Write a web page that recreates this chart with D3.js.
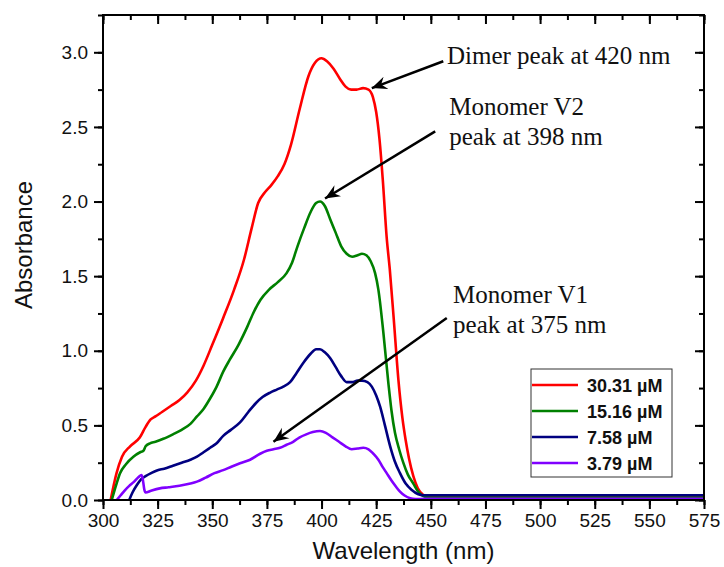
<!DOCTYPE html>
<html>
<head>
<meta charset="utf-8">
<script src="https://cdn.jsdelivr.net/npm/d3@7"></script>
<style>
  html, body { margin: 0; padding: 0; background: #fff; }
  svg { display: block; }
</style>
</head>
<body>
<svg id="chart" width="724" height="567"></svg>
<script>
// UV-Vis absorption spectra at four concentrations: [wavelength (nm), absorbance]
const spec3031 = [
  [303.5,0],[306.2,0.18],[308.7,0.29],[312.4,0.36],[316.9,0.42],[319.5,0.49],[321.8,0.54],[324,0.56],
  [327,0.59],[331,0.63],[335,0.67],[338.5,0.72],[342.5,0.80],[346,0.90],[350,1.04],[355,1.22],
  [360,1.41],[364.5,1.61],[368,1.82],[371,1.99],[374,2.06],[377,2.11],[380,2.17],[383,2.25],
  [386,2.38],[390,2.62],[394,2.84],[397,2.93],[400,2.96],[402.5,2.94],[405.5,2.89],[408.5,2.82],
  [411,2.77],[413.5,2.75],[416,2.75],[419,2.76],[421.5,2.75],[423.5,2.70],[425,2.60],[426.5,2.42],
  [428,2.15],[429.8,1.76],[431.2,1.55],[433,1.22],[435.2,0.80],[437,0.55],[438.5,0.40],[440,0.28],
  [442,0.16],[444,0.08],[446.5,0.035],[449,0.024],[575,0.024]
];
const spec1516 = [
  [304,0],[306,0.10],[307.8,0.18],[310.5,0.24],[313.9,0.29],[317,0.32],[318.5,0.33],[319.5,0.36],
  [321.5,0.38],[324,0.39],[327.6,0.41],[332,0.44],[336,0.47],[340,0.51],[343,0.56],[346,0.61],
  [349,0.68],[352,0.76],[355,0.86],[358,0.94],[362,1.04],[366,1.16],[369,1.26],[372,1.34],
  [376,1.41],[380,1.46],[384,1.52],[386.5,1.59],[389,1.70],[392,1.82],[395,1.93],[397.5,1.99],
  [399.3,2.00],[401.5,1.97],[404,1.88],[406.5,1.79],[409,1.70],[411.5,1.65],[414,1.63],[416.5,1.64],
  [418.5,1.65],[420.5,1.64],[422.5,1.60],[424.5,1.52],[426,1.41],[428.3,1.12],[430.6,0.78],[432,0.60],
  [433.6,0.45],[435.5,0.34],[437.4,0.25],[439.5,0.17],[442,0.11],[444,0.06],[446,0.03],[449,0.016],
  [575,0.016]
];
const spec758 = [
  [312,0],[313.5,0.05],[315.5,0.10],[317.5,0.14],[319.5,0.16],[322,0.18],[325,0.20],[328,0.21],
  [332,0.23],[336,0.25],[340,0.27],[343,0.29],[346,0.32],[349,0.35],[352,0.38],[355,0.43],
  [358.5,0.47],[362.7,0.52],[366.5,0.59],[370,0.65],[373,0.69],[376.5,0.72],[379.5,0.74],[382.5,0.76],
  [385.6,0.79],[388.5,0.85],[391.7,0.92],[395,0.98],[397.5,1.01],[399.3,1.01],[401.5,0.99],[404,0.95],
  [406.5,0.89],[409,0.83],[411.5,0.79],[414,0.79],[416.5,0.80],[418.5,0.80],[421,0.79],[423,0.76],
  [425,0.70],[426.8,0.625],[429,0.50],[431.4,0.36],[433.5,0.26],[435.9,0.18],[438.5,0.11],[441.3,0.067],
  [444,0.04],[446.6,0.032],[450,0.032],[575,0.032]
];
const spec379 = [
  [306.3,0],[308,0.03],[310,0.065],[312,0.095],[314,0.12],[316,0.15],[317.7,0.168],[318.4,0.12],
  [318.9,0.07],[319.5,0.05],[322,0.062],[326,0.078],[330,0.085],[335,0.095],[340,0.11],[343,0.123],
  [347,0.15],[351,0.18],[355,0.20],[359,0.225],[362.7,0.246],[367.3,0.27],[371.9,0.31],[375,0.33],
  [378,0.34],[381,0.35],[384,0.37],[387,0.39],[390,0.42],[393,0.44],[396,0.455],[399.3,0.462],
  [402,0.45],[405,0.42],[408,0.39],[411,0.36],[413.8,0.34],[416.5,0.345],[419.1,0.35],[421.5,0.34],
  [423.7,0.31],[426,0.27],[428,0.22],[429.8,0.18],[432,0.13],[434,0.09],[435.9,0.056],[438,0.03],
  [440.5,0.012],[443,0.006],[447,0.008],[575,0.008]
];

const seriesNames = ["30.31 \u00B5M", "15.16 \u00B5M", "7.58 \u00B5M", "3.79 \u00B5M"];
const seriesData = [spec3031, spec1516, spec758, spec379];
const seriesColors = ["#ff0000", "#008000", "#000080", "#8000ff"];

const xTicks = [300,325,350,375,400,425,450,475,500,525,550,575];
const yTicks = [0,0.5,1.0,1.5,2.0,2.5,3.0];

// Annotation callouts: text lines, text anchor and arrow in data units
const noteLines = [["Dimer peak at 420 nm"], ["Monomer V2", "peak at 398 nm"], ["Monomer V1", "peak at 375 nm"]];
const noteText = [[457.4, 2.92], [458.4, 2.58], [460.2, 1.32]];
const noteArrowFrom = [[455.7, 2.94], [452, 2.47], [457.3, 1.22]];
const noteArrowTo = [[423, 2.76], [401.6, 2.02], [378, 0.39]];

const svg = d3.select("#chart");
const m = { left: 103, right: 20, top: 15, bottom: 67 };
const W = 724, H = 567;
const x = d3.scaleLinear().domain([300, 575]).range([m.left, W - m.right]);
const y = d3.scaleLinear().domain([0, 3.25]).range([H - m.bottom, m.top]);

const x0 = x.range()[0], x1 = x.range()[1], y0 = y.range()[0], y1 = y.range()[1];

const minorX = d3.range(300, 575.01, 12.5);
const minorY = d3.range(0, 3.2501, 0.25);

function styleAxis(g) {
  g.select(".domain").remove();
  g.selectAll(".tick line").attr("stroke", "#000").attr("stroke-width", 2);
  g.selectAll(".tick text").attr("fill", "#111")
    .style("font-family", "Liberation Sans, Arial, sans-serif").style("font-size", "19px");
}

// bottom axis: labelled major ticks + minor ticks, pointing out
svg.append("g").attr("transform", `translate(0,${y0})`)
  .call(d3.axisBottom(x).tickValues(minorX).tickSize(5).tickFormat(""))
  .call(styleAxis);
svg.append("g").attr("transform", `translate(0,${y0})`)
  .call(d3.axisBottom(x).tickValues(xTicks).tickSize(9).tickPadding(5).tickFormat(d3.format("d")))
  .call(styleAxis);
// left axis
svg.append("g").attr("transform", `translate(${x0},0)`)
  .call(d3.axisLeft(y).tickValues(minorY).tickSize(5).tickFormat(""))
  .call(styleAxis);
svg.append("g").attr("transform", `translate(${x0},0)`)
  .call(d3.axisLeft(y).tickValues(yTicks).tickSize(9).tickPadding(6).tickFormat(d3.format(".1f")))
  .call(styleAxis);
// top and right axes: inward ticks, no labels
svg.append("g").attr("transform", `translate(0,${y1})`)
  .call(d3.axisBottom(x).tickValues(minorX).tickSize(5).tickFormat(""))
  .call(styleAxis);
svg.append("g").attr("transform", `translate(0,${y1})`)
  .call(d3.axisBottom(x).tickValues(xTicks).tickSize(9).tickFormat(""))
  .call(styleAxis);
svg.append("g").attr("transform", `translate(${x1},0)`)
  .call(d3.axisLeft(y).tickValues(minorY).tickSize(5).tickFormat(""))
  .call(styleAxis);
svg.append("g").attr("transform", `translate(${x1},0)`)
  .call(d3.axisLeft(y).tickValues(yTicks).tickSize(9).tickFormat(""))
  .call(styleAxis);

// spectra
const line = d3.line().x(d => x(d[0])).y(d => y(d[1])).curve(d3.curveMonotoneX);
svg.append("g").selectAll("path").data(seriesData).join("path")
  .attr("d", line)
  .attr("fill", "none")
  .attr("stroke", (d, i) => seriesColors[i])
  .attr("stroke-width", 2.6)
  .attr("stroke-linejoin", "round");

// plot frame
svg.append("rect")
  .attr("x", x0).attr("y", y1).attr("width", x1 - x0).attr("height", y0 - y1)
  .attr("fill", "none").attr("stroke", "#000").attr("stroke-width", 2);

// axis titles
svg.append("text")
  .attr("x", (x0 + x1) / 2).attr("y", 559)
  .attr("text-anchor", "middle")
  .style("font-family", "Liberation Sans, Arial, sans-serif").style("font-size", "24px").attr("fill", "#111")
  .text("Wavelength (nm)");
svg.append("text")
  .attr("transform", "translate(32,245) rotate(-90)")
  .attr("text-anchor", "middle")
  .style("font-family", "Liberation Sans, Arial, sans-serif").style("font-size", "24px").attr("fill", "#111")
  .text("Absorbance");

// arrowhead
svg.append("defs").append("marker")
  .attr("id", "head").attr("markerUnits", "userSpaceOnUse")
  .attr("viewBox", "0 -7 16 14").attr("refX", 15).attr("refY", 0)
  .attr("markerWidth", 16).attr("markerHeight", 14).attr("orient", "auto")
  .append("path").attr("d", "M15,0 L0,-6.5 L5,0 L0,6.5 Z").attr("fill", "#000");

const notes = svg.append("g");
noteLines.forEach((lines, i) => {
  notes.append("line")
    .attr("x1", x(noteArrowFrom[i][0])).attr("y1", y(noteArrowFrom[i][1]))
    .attr("x2", x(noteArrowTo[i][0])).attr("y2", y(noteArrowTo[i][1]))
    .attr("stroke", "#000").attr("stroke-width", 2.5)
    .attr("marker-end", "url(#head)");
  const t = notes.append("text")
    .attr("x", x(noteText[i][0])).attr("y", y(noteText[i][1]))
    .style("font-family", "Liberation Serif, 'Times New Roman', serif").style("font-size", "25px")
    .attr("fill", "#111");
  lines.forEach((s, k) => {
    t.append("tspan").attr("x", x(noteText[i][0])).attr("dy", k === 0 ? 0 : 30).text(s);
  });
});

// legend
const lg = svg.append("g");
lg.append("rect").attr("x", 531).attr("y", 369).attr("width", 141).attr("height", 108)
  .attr("fill", "#fff").attr("stroke", "#333").attr("stroke-width", 1);
const items = lg.selectAll("g.item").data(seriesNames).join("g")
  .attr("class", "item")
  .attr("transform", (d, i) => `translate(531,${385 + i * 26})`);
items.append("line").attr("x1", 1).attr("x2", 47).attr("y1", 0).attr("y2", 0)
  .attr("stroke", (d, i) => seriesColors[i]).attr("stroke-width", 2.6);
items.append("text").attr("x", 56).attr("y", 6.5)
  .style("font-family", "Liberation Sans, Arial, sans-serif").style("font-size", "18px")
  .style("font-weight", "bold").attr("fill", "#111")
  .text(d => d);
</script>
</body>
</html>
